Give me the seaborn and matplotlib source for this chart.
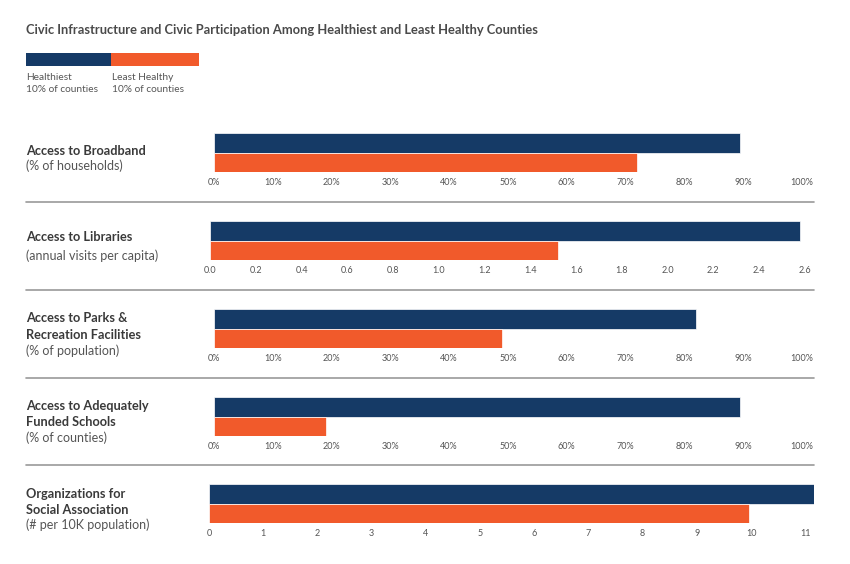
import matplotlib
matplotlib.use("Agg")
import matplotlib.pyplot as plt
from matplotlib.lines import Line2D
import seaborn as sns
import pandas as pd

sns.set_theme(style="white")
plt.rcParams['font.family'] = ['Lato', 'DejaVu Sans']

# ---- data ----
groups = ["Healthiest\n10% of counties", "Least Healthy\n10% of counties"]
metric_titles = ["Access to Broadband", "Access to Libraries",
                 "Access to Parks &\nRecreation Facilities",
                 "Access to Adequately\nFunded Schools",
                 "Organizations for\nSocial Association"]
metric_units = ["(% of households)", "(annual visits per capita)",
                "(% of population)", "(% of counties)", "(# per 10K population)"]
healthiest = [89.5, 2.58, 82, 89.5, 11.16]
least_healthy = [72, 1.52, 49, 19, 9.97]
tick_values = [
    list(range(0, 101, 10)),
    [0.0, 0.2, 0.4, 0.6, 0.8, 1.0, 1.2, 1.4, 1.6, 1.8, 2.0, 2.2, 2.4, 2.6],
    list(range(0, 101, 10)),
    list(range(0, 101, 10)),
    list(range(0, 12)),
]
tick_labels = [
    [f"{v}%" for v in range(0, 101, 10)],
    [f"{v:.1f}" for v in [0.0, 0.2, 0.4, 0.6, 0.8, 1.0, 1.2, 1.4, 1.6, 1.8, 2.0, 2.2, 2.4, 2.6]],
    [f"{v}%" for v in range(0, 101, 10)],
    [f"{v}%" for v in range(0, 101, 10)],
    [str(v) for v in range(0, 12)],
]
x_limits = [(-1.87, 102.1), (-0.031, 2.64), (-1.87, 102.1), (-1.87, 102.1), (-0.11, 11.16)]

NAVY = "#153a66"
ORANGE = "#f15a2b"
W, H = 850, 564

fig = plt.figure(figsize=(8.5, 5.64), dpi=100)

def fx(px):
    return px / W

def fy(py):
    return 1 - py / H

# title
fig.text(fx(26), fy(30), "Civic Infrastructure and Civic Participation Among Healthiest and Least Healthy Counties",
         fontsize=9.3, fontweight="bold", color="#4a4a4a", va="center", ha="left")

# legend
leg_ax = fig.add_axes([fx(26), fy(66), fx(199) - fx(26), (66 - 53) / H])
leg_ax.barh([0], [85], left=[0], color=NAVY, height=1, linewidth=0)
leg_ax.barh([0], [88], left=[85], color=ORANGE, height=1, linewidth=0)
leg_ax.set_xlim(0, 173)
leg_ax.set_ylim(-0.5, 0.5)
leg_ax.axis("off")
for k, lx in enumerate([26, 112]):
    first, second = groups[k].split("\n")
    fig.text(fx(lx), fy(77), first, fontsize=7.3, color="#555555", va="center", ha="left")
    fig.text(fx(lx), fy(90), second, fontsize=7.3, color="#555555", va="center", ha="left")

# panels
panel_tops = [133, 221, 309, 397, 484]
label_ys = [[151, 166], [237, 256], [318, 335, 351], [406, 422, 438], [494, 510, 525]]
bar_h = 39
for i in range(5):
    top = panel_tops[i]
    ax = fig.add_axes([fx(203), fy(top + bar_h), fx(814) - fx(203), bar_h / H])
    df = pd.DataFrame({
        "metric": [metric_titles[i]] * 2,
        "group": groups,
        "value": [healthiest[i], least_healthy[i]],
    })
    sns.barplot(data=df, x="value", y="metric", hue="group", orient="h",
                palette=[NAVY, ORANGE], width=1.0, ax=ax, legend=False,
                saturation=1, edgecolor="white", linewidth=0.5)
    ax.set_ylim(0.5, -0.5)
    ax.set_xlim(*x_limits[i])
    ax.set_xticks(tick_values[i])
    ax.set_xticklabels(tick_labels[i])
    ax.tick_params(axis="x", length=0, pad=4, labelsize=6.5, labelcolor="#555555")
    ax.set_yticks([])
    ax.set_xlabel("")
    ax.set_ylabel("")
    for s in ax.spines.values():
        s.set_visible(False)

    lines = metric_titles[i].split("\n")
    ys = label_ys[i]
    for j, line in enumerate(lines):
        fig.text(fx(26), fy(ys[j]), line, fontsize=9.2, fontweight="bold",
                 color="#3a3a3a", va="center", ha="left")
    fig.text(fx(26), fy(ys[-1]), metric_units[i], fontsize=9.0, color="#555555",
             va="center", ha="left")

# separators
for sy in [202, 290, 378, 465]:
    fig.add_artist(Line2D([fx(26), fx(814)], [fy(sy), fy(sy)], color="#9a9a9a", lw=1.2))

fig.savefig("out.png", dpi=100)
